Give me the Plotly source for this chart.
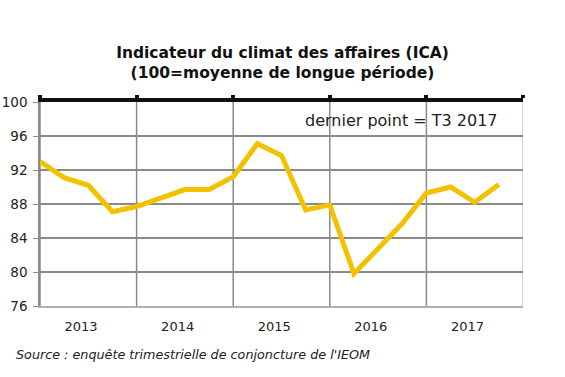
import plotly.graph_objects as go

quarters = ["T4 2012", "T1 2013", "T2 2013", "T3 2013", "T4 2013",
            "T1 2014", "T2 2014", "T3 2014", "T4 2014",
            "T1 2015", "T2 2015", "T3 2015", "T4 2015",
            "T1 2016", "T2 2016", "T3 2016", "T4 2016",
            "T1 2017", "T2 2017", "T3 2017"]
ica = [93.0, 91.1, 90.2, 87.1, 87.7, 88.7, 89.7, 89.7, 91.2, 95.1,
       93.7, 87.3, 87.9, 79.8, 82.7, 85.7, 89.3, 90.0, 88.2, 90.3]
years = ["2013", "2014", "2015", "2016", "2017"]
yticks = [76, 80, 84, 88, 92, 96, 100]

x = list(range(len(ica)))
year_bounds = [4 * i for i in range(len(years) + 1)]
year_label_pos = [4 * i + 1.7 for i in range(len(years))]

fig = go.Figure()
fig.add_trace(go.Scatter(x=x, y=ica, mode="lines",
                         line=dict(color="#F2C200", width=5),
                         text=quarters, hoverinfo="text+y", showlegend=False))
fig.add_trace(go.Scatter(x=[0, 20], y=[100, 100], xaxis="x2", mode="lines",
                         line=dict(width=0), hoverinfo="skip", showlegend=False))

fig.update_layout(
    width=565, height=377,
    margin=dict(l=40, r=42, t=102, b=71),
    paper_bgcolor="white", plot_bgcolor="white",
    title=dict(text="<b>Indicateur du climat des affaires (ICA)<br>(100=moyenne de longue période)</b>",
               x=0.5, xanchor="center", y=0.846, yanchor="middle",
               font=dict(family="DejaVu Sans", size=15.5, color="#111")),
    xaxis=dict(range=[0, 20], tickvals=year_label_pos, ticktext=years,
               showgrid=False, zeroline=False, ticks="", automargin=False,
               ticklabelstandoff=8,
               showline=True, linecolor="#b0b0b0", linewidth=1.5,
               tickfont=dict(family="DejaVu Sans", size=13, color="#222")),
    xaxis2=dict(range=[0, 20], overlaying="x", side="top", anchor="y",
                tickvals=year_bounds, showticklabels=False, automargin=False,
                showline=True, linecolor="#111", linewidth=4,
                ticks="outside", ticklen=3, tickwidth=4, tickcolor="#111",
                showgrid=False, zeroline=False),
    yaxis=dict(range=[76, 100], tickvals=yticks, showgrid=True, automargin=False,
               gridcolor="#8a8a8a", gridwidth=1.5, zeroline=False,
               ticks="outside", ticklen=5, tickcolor="#8a8a8a",
               ticklabelstandoff=3,
               showline=True, linecolor="#8a8a8a", linewidth=1.5,
               tickfont=dict(family="DejaVu Sans", size=13.5, color="#222")),
)

for xb in year_bounds:
    fig.add_shape(type="line", xref="x", yref="paper", x0=xb, x1=xb, y0=0, y1=1,
                  line=dict(color="#8a8a8a" if xb < 20 else "#c8c8c8", width=1.5),
                  layer="below")

fig.add_annotation(text="dernier point = T3 2017", xref="paper", yref="paper",
                   x=0.952, y=0.91, xanchor="right", yanchor="middle", showarrow=False,
                   font=dict(family="DejaVu Sans", size=16, color="#222"))
fig.add_annotation(text="<i>Source : enquête trimestrielle de conjoncture de l'IEOM</i>",
                   xref="paper", yref="paper", x=-0.053, y=-0.24, xanchor="left",
                   yanchor="middle", showarrow=False,
                   font=dict(family="DejaVu Sans", size=12.75, color="#222"))

fig.write_html("out.html", config={"displayModeBar": False},
               post_script="document.body.style.margin='0';document.body.style.overflow='hidden';")
